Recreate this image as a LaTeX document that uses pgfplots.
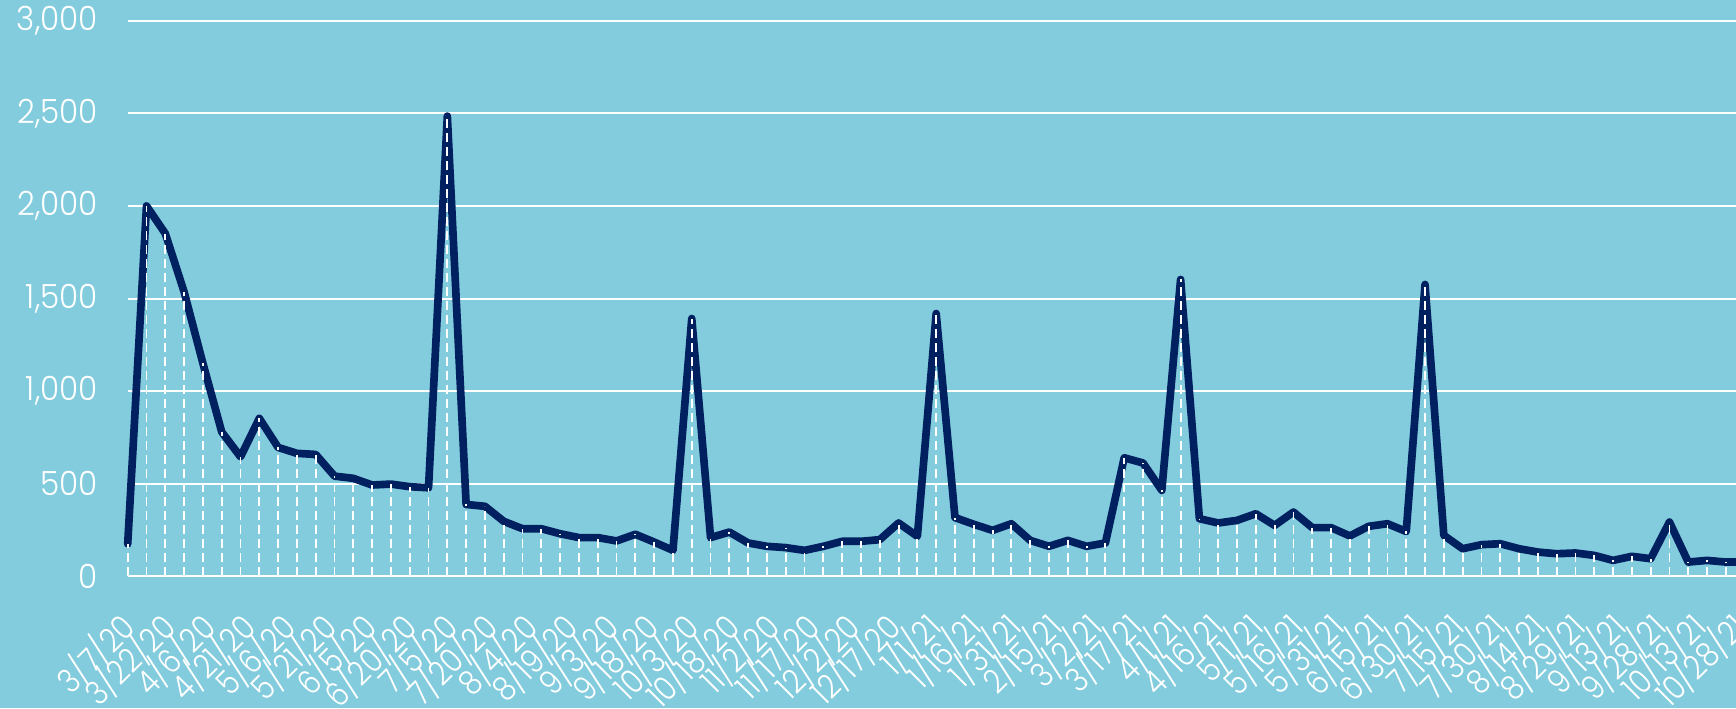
\documentclass[border=0pt]{standalone}
\usepackage{fontspec}
\setmainfont{Poppins Light}
\newfontfamily\yfont{Poppins Light}[FakeStretch=0.93]
\newfontfamily\xfont{Poppins Light}[FakeStretch=0.87]
\usepackage{pgfplots}
\pgfplotsset{compat=1.18}
\usepackage{pgfplotstable}
\definecolor{bgblue}{RGB}{131,204,222}
\definecolor{navy}{RGB}{0,32,96}

% weekly counts, day 0 = 3/7/20
\pgfplotstableread{
day val
0 175
7 2000
14 1851
21 1536
28 1150
35 780
42 645
49 853
56 696
63 664
70 658
77 541
84 529
91 493
98 498
105 484
112 478
119 2485
126 388
133 378
140 297
147 257
154 257
161 230
168 209
175 209
182 191
189 227
196 185
203 140
210 1392
217 209
224 239
231 180
238 162
245 155
252 140
259 162
266 189
273 189
280 198
287 288
294 216
301 1419
308 317
315 281
322 248
329 284
336 194
343 162
350 194
357 162
364 180
371 640
378 612
385 464
392 1603
399 311
406 288
413 302
420 338
427 275
434 347
441 263
448 263
455 218
462 270
469 284
476 242
483 1576
490 221
497 149
504 171
511 176
518 149
525 131
532 122
539 126
546 113
553 86
560 108
567 95
574 293
581 77
588 86
595 77
602 77
}\cases

\begin{document}
\begin{tikzpicture}
\fill[bgblue] (0,0) rectangle (520.8pt,212.4pt);
\begin{axis}[
    at={(38.31pt,39.51pt)}, anchor=south west,
    scale only axis,
    width=483.48pt, height=166.68pt,
    xmin=0, xmax=600, ymin=0, ymax=3000,
    clip=false,
    axis x line*=bottom, axis y line*=left,
    x axis line style={white, line width=0.7pt, -},
    y axis line style={draw=none},
    ymajorgrids,
    grid style={white, line width=0.6pt},
    major tick length=0pt,
    tick style={draw=none},
    ytick={0,500,...,3000},
    yticklabels={0,500,{1,000},{1,500},{2,000},{2,500},{3,000}},
    xtick={0,15,...,600},
    xticklabels={3/7/20,3/22/20,4/6/20,4/21/20,5/6/20,5/21/20,6/5/20,6/20/20,
        7/5/20,7/20/20,8/4/20,8/19/20,9/3/20,9/18/20,10/3/20,10/18/20,
        11/2/20,11/17/20,12/2/20,12/17/20,1/1/21,1/16/21,1/31/21,2/15/21,
        3/2/21,3/17/21,4/1/21,4/16/21,5/1/21,5/16/21,5/31/21,6/15/21,
        6/30/21,7/15/21,7/30/21,8/14/21,8/29/21,9/13/21,9/28/21,10/13/21,
        10/28/21},
    ticklabel style={white},
    yticklabel style={font=\yfont\fontsize{10}{12}\selectfont,
        anchor=east, inner sep=0pt, xshift=-8.8pt},
    % shifts act in the rotated frame
    xticklabel style={font=\xfont\fontsize{10}{12}\selectfont,
        rotate=45, anchor=north east, inner sep=0pt, xshift=-9.1pt, yshift=-3.8pt},
]
\addplot[navy, line width=2.3pt, line join=round, line cap=round]
    table[x=day, y=val] {\cases};
\addplot[ycomb, white, line width=0.55pt, dash pattern=on 2.7pt off 1.5pt]
    table[x=day, y=val] {\cases};
\end{axis}
\pgfresetboundingbox
\useasboundingbox (0,0) rectangle (520.8pt,212.4pt);
\end{tikzpicture}
\end{document}
